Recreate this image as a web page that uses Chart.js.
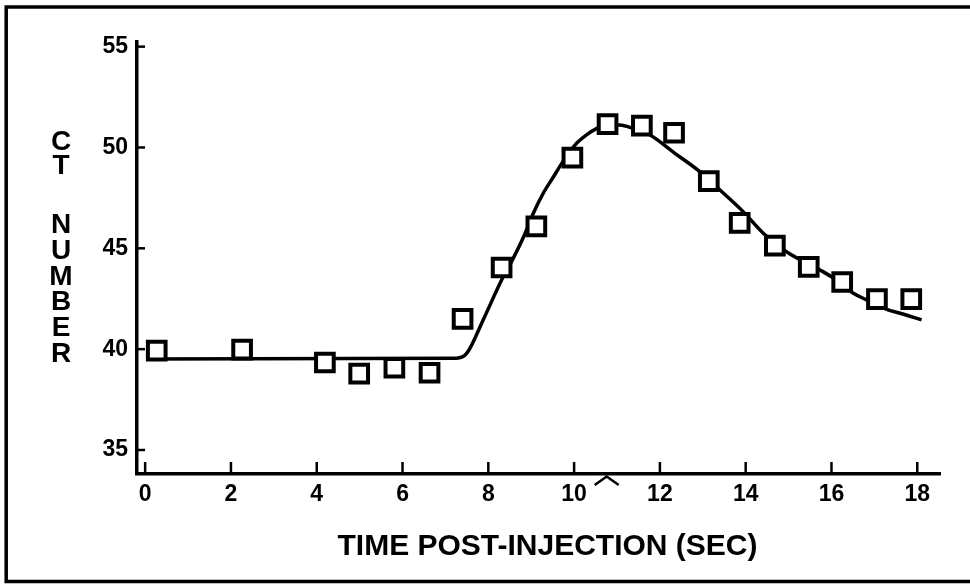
<!DOCTYPE html>
<html>
<head>
<meta charset="utf-8">
<script src="https://cdn.jsdelivr.net/npm/chart.js@4/dist/chart.umd.min.js"></script>
<style>
  html, body { margin: 0; padding: 0; background: #ffffff; }
  #wrap { width: 970px; height: 584px; position: relative; }
</style>
</head>
<body>
<div id="wrap"><canvas id="c" width="970" height="584"></canvas></div>
<script>
// ---- data ----
const timeSec  = [0.27, 2.26, 4.19, 4.99, 5.81, 6.63, 7.40, 8.31, 9.12, 9.96, 10.78, 11.58, 12.33, 13.14, 13.86, 14.68, 15.47, 16.25, 17.06, 17.86];
const ctNumber = [39.93, 39.98, 39.34, 38.79, 39.08, 38.83, 41.50, 44.05, 46.09, 49.50, 51.16, 51.08, 50.73, 48.33, 46.26, 45.13, 44.08, 43.33, 42.48, 42.48];

// fitted curve
const fitTime = [0.04, 7.26, 7.50, 7.88, 8.31, 8.58, 8.86, 9.05, 9.28, 9.52, 9.71, 10.02, 10.29, 10.53, 10.78, 11.07, 11.30, 11.77, 12.35, 12.93, 13.40, 13.94, 14.41, 14.95, 15.73, 16.00, 16.51, 16.82, 17.32, 17.60, 18.10];
const fitCT   = [39.51, 39.55, 39.80, 41.45, 43.43, 44.50, 45.75, 46.74, 47.73, 48.55, 49.20, 50.12, 50.62, 50.95, 51.12, 51.12, 51.00, 50.62, 49.71, 48.80, 47.89, 46.82, 45.75, 44.83, 43.93, 43.59, 42.77, 42.44, 41.95, 41.78, 41.45];

const xTicks = [0, 2, 4, 6, 8, 10, 12, 14, 16, 18];
const yTicks = [35, 40, 45, 50, 55];
const peakTime = 10.76;

const xTitle = 'TIME POST-INJECTION (SEC)';
const yTitleLetters = ['C', 'T', 'N', 'U', 'M', 'B', 'E', 'R'];

const FONT = '"Liberation Sans", Arial, Helvetica, sans-serif';

const decor = {
  id: 'decor',
  beforeDraw(chart) {
    const ctx = chart.ctx;
    ctx.save();
    ctx.fillStyle = '#ffffff';
    ctx.fillRect(0, 0, chart.width, chart.height);
    // outer frame
    ctx.strokeStyle = '#000';
    ctx.lineWidth = 3.5;
    ctx.beginPath();
    ctx.moveTo(980, 7);
    ctx.lineTo(6.2, 7);
    ctx.lineTo(6.2, 581.5);
    ctx.lineTo(980, 581.5);
    ctx.stroke();
    ctx.restore();
  },
  afterDraw(chart) {
    const ctx = chart.ctx;
    const xs = chart.scales.x, ys = chart.scales.y;
    const a = chart.chartArea;
    ctx.save();
    ctx.strokeStyle = '#000';
    ctx.lineCap = 'butt';
    // inward tick marks
    ctx.lineWidth = 2.5;
    xs.ticks.forEach(t => {
      const px = xs.getPixelForValue(t.value);
      ctx.beginPath();
      ctx.moveTo(px, a.bottom);
      ctx.lineTo(px, a.bottom - 12);
      ctx.stroke();
    });
    ys.ticks.forEach(t => {
      const py = ys.getPixelForValue(t.value);
      ctx.beginPath();
      ctx.moveTo(a.left, py);
      ctx.lineTo(a.left + 8, py);
      ctx.stroke();
    });
    // peak-time caret under the x axis
    const pk = xs.getPixelForValue(peakTime);
    ctx.lineWidth = 2.5;
    ctx.beginPath();
    ctx.moveTo(pk - 12, a.bottom + 11);
    ctx.lineTo(pk, a.bottom + 2.5);
    ctx.lineTo(pk + 12, a.bottom + 11);
    ctx.stroke();
    // axis titles
    ctx.fillStyle = '#000';
    ctx.font = 'bold 30px ' + FONT;
    ctx.textAlign = 'center';
    ctx.textBaseline = 'alphabetic';
    ctx.fillText(xTitle, 547.5, 555);
    ctx.font = 'bold 28px ' + FONT;
    const baselines = [150, 174, 233, 259, 285, 310, 335.5, 361.5];
    yTitleLetters.forEach((ch, i) => ctx.fillText(ch, 61, baselines[i]));
    ctx.restore();
  }
};

new Chart(document.getElementById('c'), {
  type: 'scatter',
  data: {
    datasets: [
      {
        label: 'Measured',
        data: timeSec.map((t, i) => ({ x: t, y: ctNumber[i] })),
        pointStyle: 'rect',
        pointRadius: 12.5,
        pointHoverRadius: 12.5,
        pointBorderWidth: 4,
        borderColor: '#000',
        pointBorderColor: '#000',
        pointBackgroundColor: '#fff',
        backgroundColor: '#fff',
        order: 0
      },
      {
        label: 'Fit',
        data: fitTime.map((t, i) => ({ x: t, y: fitCT[i] })),
        showLine: true,
        borderColor: '#000',
        borderWidth: 3.5,
        pointRadius: 0,
        pointHoverRadius: 0,
        cubicInterpolationMode: 'monotone',
        fill: false,
        order: 1
      }
    ]
  },
  options: {
    responsive: false,
    devicePixelRatio: 1,
    animation: false,
    events: [],
    layout: { padding: { left: 0, top: 42, right: 30, bottom: 0 } },
    plugins: { legend: { display: false }, tooltip: { enabled: false }, title: { display: false } },
    scales: {
      x: {
        type: 'linear',
        min: -0.19,
        max: 18.53,
        afterBuildTicks: s => { s.ticks = xTicks.map(v => ({ value: v })); },
        afterFit: s => { s.height = 110; },
        grid: { display: false, drawTicks: false },
        border: { display: true, color: '#000', width: 3.5 },
        ticks: { color: '#000', padding: 9.5, maxRotation: 0, autoSkip: false,
                 font: { family: FONT, size: 23, weight: 'bold', lineHeight: 1 } }
      },
      y: {
        type: 'linear',
        min: 33.81,
        max: 55.23,
        afterBuildTicks: s => { s.ticks = yTicks.map(v => ({ value: v })); },
        afterFit: s => { s.width = 137; },
        grid: { display: false, drawTicks: false },
        border: { display: true, color: '#000', width: 3.5 },
        ticks: { color: '#000', padding: 9, autoSkip: false,
                 font: { family: FONT, size: 23, weight: 'bold', lineHeight: 1 } }
      }
    }
  },
  plugins: [decor]
});
</script>
</body>
</html>
